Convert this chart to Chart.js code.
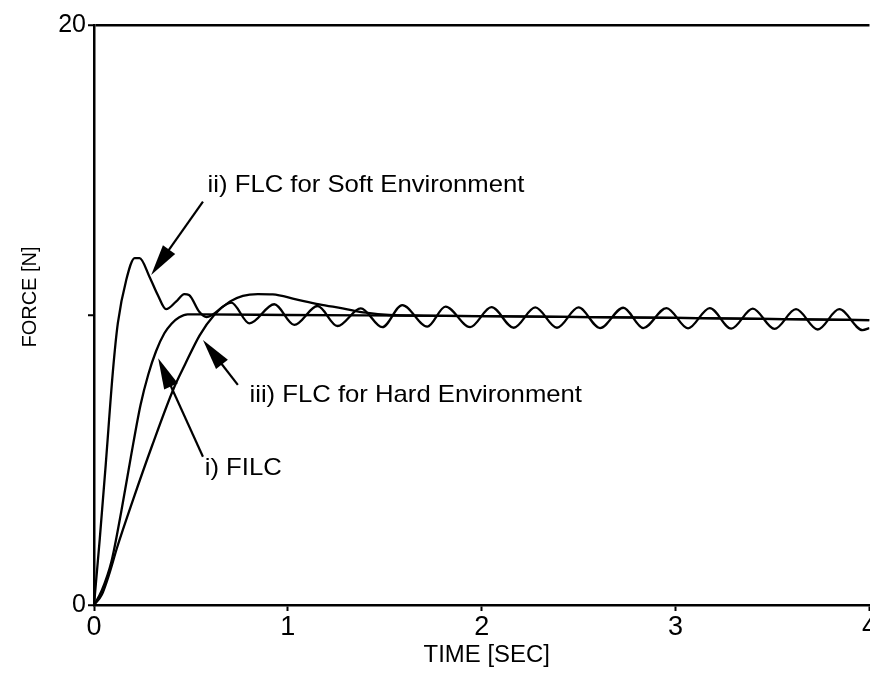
<!DOCTYPE html>
<html><head><meta charset="utf-8">
<script src="https://cdn.jsdelivr.net/npm/chart.js@4/dist/chart.umd.min.js"></script>
<style>
html,body{margin:0;padding:0;background:#fff;overflow:hidden;width:870px;height:675px}
#wrap{position:relative;width:877px;height:675px}
canvas{display:block}
</style>
</head><body><div id="wrap"><canvas id="c" width="877" height="675"></canvas></div>
<script>
// ---- data ----
const filcTime  = [0, 0.04, 0.09, 0.14, 0.19, 0.24, 0.28, 0.32, 0.363, 0.40, 0.44, 0.483, 0.55, 1.0, 2.0, 3.0, 4.0];
const filcForce = [0, 0.5, 1.5, 3.2, 5.1, 6.9, 7.95, 8.75, 9.37, 9.7, 9.92, 10.02, 10.02, 10.0, 9.96, 9.9, 9.82];

const softTime  = [0, 0.03, 0.06, 0.098, 0.123, 0.166, 0.21, 0.235, 0.286, 0.329, 0.372, 0.423, 0.466, 0.49, 0.543, 0.58,
                   0.708, 0.802, 0.93, 1.033, 1.153, 1.256, 1.376, 1.487, 1.59, 1.719, 1.813, 1.94, 2.05, 2.165, 2.276,
                   2.388, 2.499, 2.61, 2.73, 2.833, 2.953, 3.064, 3.176, 3.287, 3.398, 3.51, 3.621, 3.733, 3.844, 3.964, 4.0];
const softForce = [0, 2.3, 4.8, 8.1, 9.72, 11.2, 11.96, 11.96, 11.32, 10.69, 10.2, 10.46, 10.72, 10.69, 10.11, 9.93,
                   10.43, 9.71, 10.37, 9.66, 10.31, 9.62, 10.23, 9.58, 10.34, 9.6, 10.29, 9.58, 10.27, 9.56, 10.26,
                   9.56, 10.26, 9.55, 10.25, 9.55, 10.24, 9.54, 10.24, 9.53, 10.22, 9.52, 10.2, 9.5, 10.2, 9.48, 9.55];

const hardTime  = [0, 0.04, 0.08, 0.12, 0.2, 0.3, 0.41, 0.47, 0.545, 0.62, 0.70, 0.768, 0.845, 0.922,
                   1.042, 1.162, 1.282, 1.402, 1.522, 1.7, 2.0, 3.0, 4.0];
const hardForce = [0, 0.35, 1.1, 2.0, 3.6, 5.5, 7.45, 8.3, 9.3, 10.0, 10.46, 10.66, 10.72, 10.71,
                   10.54, 10.37, 10.23, 10.08, 10.0, 9.98, 9.96, 9.9, 9.82];

const xTicks = [0, 1, 2, 3, 4];
const yTicks = [0, 10, 20];
const yTickLabels = ['0', '', '20'];

const seriesNames = ['i) FILC', 'ii) FLC for Soft Environment', 'iii) FLC for Hard Environment'];
const xTitle = 'TIME [SEC]';
const yTitle = 'FORCE [N]';

// annotation placement (data coordinates): arrow tip, arrow tail, text anchor
const notes = [
  {text: seriesNames[1], tip: [0.295, 11.38], tail: [0.562, 13.91], at: [0.586, 14.24]},
  {text: seriesNames[2], tip: [0.562, 9.14],  tail: [0.742, 7.59],  at: [0.802, 7.0]},
  {text: seriesNames[0], tip: [0.331, 8.51],  tail: [0.562, 5.11],  at: [0.571, 4.48]}
];

const FONT = '"Liberation Sans", Arial, Helvetica, sans-serif';

function pts(t, f){ return t.map((v,i)=>({x:v, y:f[i]})); }

function stretchedText(ctx, text, x, y, size, sx, align, rot){
  ctx.save();
  ctx.translate(x, y);
  if (rot) ctx.rotate(rot);
  ctx.scale(sx, 1);
  ctx.font = size + 'px ' + FONT;
  ctx.textAlign = align; ctx.textBaseline = 'alphabetic';
  ctx.fillText(text, 0, 0);
  ctx.restore();
}

const annotate = {
  id: 'annotate',
  afterDatasetsDraw(chart){
    const {ctx, chartArea, scales:{x, y}} = chart;
    ctx.save();
    ctx.fillStyle = '#000'; ctx.strokeStyle = '#000';
    for (const n of notes){
      const tx = x.getPixelForValue(n.tip[0]), ty = y.getPixelForValue(n.tip[1]);
      const sx = x.getPixelForValue(n.tail[0]), sy = y.getPixelForValue(n.tail[1]);
      const dx = tx - sx, dy = ty - sy, len = Math.hypot(dx, dy);
      const ux = dx/len, uy = dy/len, L = 31, W = 7.5;
      const bx = tx - ux*L, by = ty - uy*L;
      ctx.lineWidth = 2.2;
      ctx.beginPath(); ctx.moveTo(sx, sy); ctx.lineTo(bx + ux*4, by + uy*4); ctx.stroke();
      ctx.beginPath();
      ctx.moveTo(tx, ty);
      ctx.lineTo(bx - uy*W, by + ux*W);
      ctx.lineTo(bx + uy*W, by - ux*W);
      ctx.closePath(); ctx.fill();
      stretchedText(ctx, n.text, x.getPixelForValue(n.at[0]), y.getPixelForValue(n.at[1]), 24, 1.07, 'left', 0);
    }
    // axis titles
    stretchedText(ctx, xTitle, (chartArea.left + chartArea.right)/2 + 5, chartArea.bottom + 57, 23, 1.04, 'center', 0);
    stretchedText(ctx, yTitle, 36, (chartArea.top + chartArea.bottom)/2 - 18, 20, 1.0, 'center', -Math.PI/2);
    ctx.restore();
  }
};

const lineStyle = {borderColor:'#000', borderWidth:2.3, pointRadius:0, fill:false, cubicInterpolationMode:'monotone'};

new Chart(document.getElementById('c'), {
  type: 'line',
  data: {
    datasets: [
      Object.assign({label: seriesNames[0], data: pts(filcTime, filcForce)}, lineStyle),
      Object.assign({label: seriesNames[1], data: pts(softTime, softForce)}, lineStyle),
      Object.assign({label: seriesNames[2], data: pts(hardTime, hardForce)}, lineStyle)
    ]
  },
  options: {
    responsive: false, animation: false, devicePixelRatio: 1,
    layout: {padding: {top: 25, right: 0, bottom: 0, left: 0}},
    plugins: {legend: {display: false}, tooltip: {enabled: false}},
    scales: {
      x: {
        type: 'linear', min: 0, max: 4,
        afterBuildTicks(s){ s.ticks = xTicks.map(v=>({value:v})); },
        ticks: {color:'#000', font:{family: FONT, size: 27}, padding: 0, maxRotation: 0,
                callback: v => String(v)},
        grid: {drawOnChartArea: false, tickLength: 6, tickColor: '#000', tickWidth: 2},
        border: {color:'#000', width: 2.5},
        title: {display: false},
        afterFit(s){ s.height = 70; }
      },
      y: {
        type: 'linear', min: 0, max: 20,
        afterBuildTicks(s){ s.ticks = yTicks.map(v=>({value:v})); },
        ticks: {color:'#000', font:{family: FONT, size: 25}, padding: 2,
                callback: v => yTickLabels[yTicks.indexOf(v)]},
        grid: {color: c => (c.tick && c.tick.value === 20) ? '#000' : 'rgba(0,0,0,0)', lineWidth: 2.5,
               tickLength: 6, tickColor: '#000', tickWidth: 2},
        border: {color:'#000', width: 2.5},
        title: {display: false},
        afterFit(s){ s.width = 94; }
      }
    }
  },
  plugins: [annotate]
});
</script>
</body></html>
